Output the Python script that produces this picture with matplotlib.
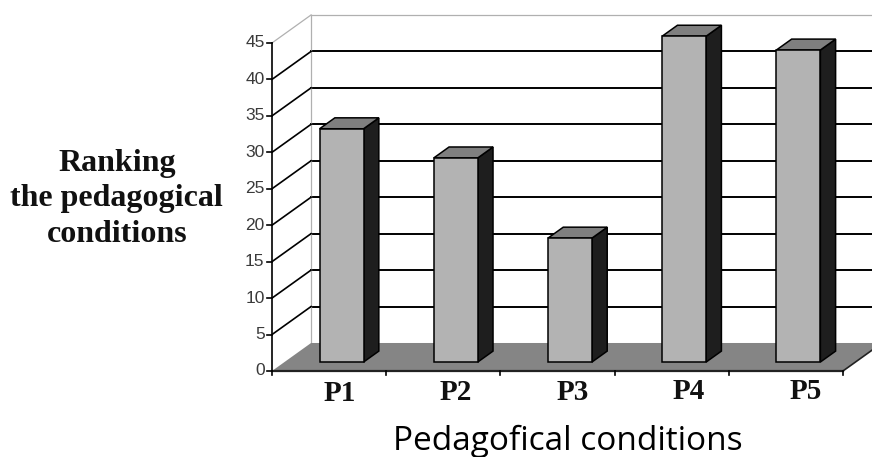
import numpy as np
import matplotlib.pyplot as plt
from matplotlib.patches import Polygon

# data
categories = ['P1', 'P2', 'P3', 'P4', 'P5']
values = [32, 28, 17, 44.7, 42.8]
y_ticks = [0, 5, 10, 15, 20, 25, 30, 35, 40, 45]

# fake 3d: full depth of the chart box in data units (x: categories, y: values)
DX, DY = 0.342, 3.84
F0, F1 = 0.32, 0.71      # bars sit between these fractions of the depth
BAR_W = 0.385
N = len(categories)
Y_MAX = y_ticks[-1]

fig = plt.figure(figsize=(8.72, 4.57), dpi=100)
ax = fig.add_axes([0, 0, 1, 1])
ax.set_xlim(-2.382, 5.254)
ax.set_ylim(-11.8, 50.89)
ax.axis('off')

# back wall gridlines
xb0, xb1 = DX, N + DX
for t in y_ticks[1:-1]:
    ax.plot([xb0, xb1], [t + DY] * 2, color='black', lw=1.4, zorder=1)
ax.plot([xb0, xb0], [DY, Y_MAX + DY], color='#b0b0b0', lw=0.9, zorder=1)
ax.plot([xb0, xb1], [Y_MAX + DY] * 2, color='#b0b0b0', lw=0.9, zorder=1)

# side wall gridlines
for t in y_ticks[1:]:
    c = '#b0b0b0' if t == Y_MAX else 'black'
    lw = 0.9 if t == Y_MAX else 1.2
    ax.plot([0, DX], [t, t + DY], color=c, lw=lw, zorder=1)

# floor
floor = Polygon([(0, 0), (N, 0), (N + DX, DY), (DX, DY)], closed=True,
                facecolor='#858585', edgecolor='none', zorder=2)
ax.add_patch(floor)
ax.plot([0, N], [0, 0], color='#222222', lw=1.6, zorder=3)
ax.plot([N, N + DX], [0, DY], color='#222222', lw=1.2, zorder=3)

# axes lines and ticks
ax.plot([0, 0], [0, Y_MAX], color='black', lw=1.2, zorder=3)
for t in y_ticks:
    ax.plot([-0.04, 0], [t, t], color='black', lw=1.2, zorder=3)
    ax.text(-0.065, t, str(t), ha='right', va='center', fontsize=12.5,
            color='#3a3a3a', family='Liberation Sans')
for i in range(N + 1):
    ax.plot([i, i], [0, -0.55], color='black', lw=1.2, zorder=3)

# bars
dd = F1 - F0
for i, v in enumerate(values):
    x0 = i + 0.5 - BAR_W / 2 + DX * F0
    y0 = DY * F0
    x1 = x0 + BAR_W
    front = Polygon([(x0, y0), (x1, y0), (x1, y0 + v), (x0, y0 + v)],
                    facecolor='#b3b3b3', edgecolor='black', lw=1.1, zorder=5)
    side = Polygon([(x1, y0), (x1 + DX * dd, y0 + DY * dd),
                    (x1 + DX * dd, y0 + DY * dd + v), (x1, y0 + v)],
                   facecolor='#1e1e1e', edgecolor='black', lw=1.1, zorder=4)
    top = Polygon([(x0, y0 + v), (x1, y0 + v),
                   (x1 + DX * dd, y0 + v + DY * dd), (x0 + DX * dd, y0 + v + DY * dd)],
                  facecolor='#7f7f7f', edgecolor='black', lw=1.1, zorder=4)
    for p in (side, top, front):
        ax.add_patch(p)

# category labels
for i, name in enumerate(categories):
    ax.text(i + 0.59 + 0.02 * i, -3.1 + 0.08 * i, name, ha='center', va='center',
            fontsize=21, fontweight='bold', family='Liberation Serif', color='#111111')

fig.text(0.651, 0.035, 'Pedagofical conditions', ha='center', va='center',
         fontsize=24, family='Open Sans', color='black')
fig.text(0.134, 0.565, 'Ranking\nthe pedagogical\nconditions', ha='center', va='center',
         multialignment='center', fontsize=23, fontweight='bold',
         family='Liberation Serif', color='#111111', linespacing=1.3)

fig.savefig('out.png', dpi=100)
